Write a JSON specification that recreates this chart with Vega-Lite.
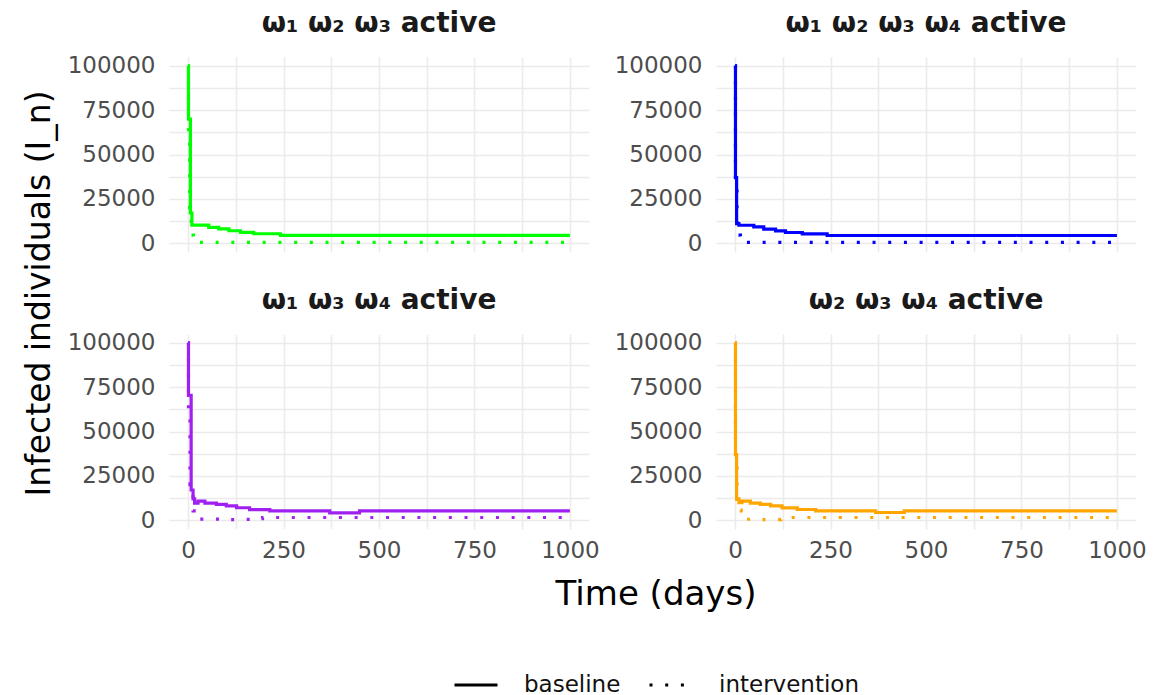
{
  "$schema": "https://vega.github.io/schema/vega-lite/v6.json",
  "background": "white",
  "padding": {"left": 24, "top": 9, "right": 18, "bottom": 4},
  "title": {
    "text": "Infected individuals (I_n)",
    "orient": "left",
    "anchor": "middle",
    "font": "DejaVu Sans",
    "fontSize": 33,
    "fontWeight": "normal",
    "color": "black",
    "offset": 10,
    "dx": 60
  },
  "data": {
    "values": [
      {"panel": "A", "scenario": "baseline", "t": 0, "v": 100000},
      {"panel": "A", "scenario": "baseline", "t": 1, "v": 70000},
      {"panel": "A", "scenario": "baseline", "t": 6, "v": 17000},
      {"panel": "A", "scenario": "baseline", "t": 10, "v": 10200},
      {"panel": "A", "scenario": "baseline", "t": 54, "v": 8900},
      {"panel": "A", "scenario": "baseline", "t": 80, "v": 8000},
      {"panel": "A", "scenario": "baseline", "t": 107, "v": 7000},
      {"panel": "A", "scenario": "baseline", "t": 137, "v": 6100},
      {"panel": "A", "scenario": "baseline", "t": 172, "v": 5300},
      {"panel": "A", "scenario": "baseline", "t": 242, "v": 4400},
      {"panel": "A", "scenario": "baseline", "t": 1000, "v": 4400},
      {"panel": "A", "scenario": "intervention", "t": 0, "v": 100000},
      {"panel": "A", "scenario": "intervention", "t": 1, "v": 64000},
      {"panel": "A", "scenario": "intervention", "t": 4, "v": 20000},
      {"panel": "A", "scenario": "intervention", "t": 8, "v": 4500},
      {"panel": "A", "scenario": "intervention", "t": 14, "v": 400},
      {"panel": "A", "scenario": "intervention", "t": 1000, "v": 400},

      {"panel": "B", "scenario": "baseline", "t": 0, "v": 100000},
      {"panel": "B", "scenario": "baseline", "t": 1, "v": 37000},
      {"panel": "B", "scenario": "baseline", "t": 4, "v": 11000},
      {"panel": "B", "scenario": "baseline", "t": 10, "v": 10100},
      {"panel": "B", "scenario": "baseline", "t": 49, "v": 9200},
      {"panel": "B", "scenario": "baseline", "t": 75, "v": 7900},
      {"panel": "B", "scenario": "baseline", "t": 106, "v": 6900},
      {"panel": "B", "scenario": "baseline", "t": 132, "v": 6000},
      {"panel": "B", "scenario": "baseline", "t": 176, "v": 5200},
      {"panel": "B", "scenario": "baseline", "t": 241, "v": 4300},
      {"panel": "B", "scenario": "baseline", "t": 1000, "v": 4300},
      {"panel": "B", "scenario": "intervention", "t": 0, "v": 100000},
      {"panel": "B", "scenario": "intervention", "t": 1, "v": 34000},
      {"panel": "B", "scenario": "intervention", "t": 5, "v": 4500},
      {"panel": "B", "scenario": "intervention", "t": 14, "v": 400},
      {"panel": "B", "scenario": "intervention", "t": 1000, "v": 400},

      {"panel": "C", "scenario": "baseline", "t": 0, "v": 100000},
      {"panel": "C", "scenario": "baseline", "t": 1, "v": 70400},
      {"panel": "C", "scenario": "baseline", "t": 8, "v": 17000},
      {"panel": "C", "scenario": "baseline", "t": 13, "v": 12000},
      {"panel": "C", "scenario": "baseline", "t": 17, "v": 9600},
      {"panel": "C", "scenario": "baseline", "t": 26, "v": 10700},
      {"panel": "C", "scenario": "baseline", "t": 44, "v": 9600},
      {"panel": "C", "scenario": "baseline", "t": 74, "v": 8900},
      {"panel": "C", "scenario": "baseline", "t": 100, "v": 8000},
      {"panel": "C", "scenario": "baseline", "t": 127, "v": 7000},
      {"panel": "C", "scenario": "baseline", "t": 161, "v": 5900},
      {"panel": "C", "scenario": "baseline", "t": 214, "v": 5200},
      {"panel": "C", "scenario": "baseline", "t": 371, "v": 4100},
      {"panel": "C", "scenario": "baseline", "t": 449, "v": 5200},
      {"panel": "C", "scenario": "baseline", "t": 1000, "v": 5200},
      {"panel": "C", "scenario": "intervention", "t": 0, "v": 100000},
      {"panel": "C", "scenario": "intervention", "t": 1, "v": 63000},
      {"panel": "C", "scenario": "intervention", "t": 5, "v": 20000},
      {"panel": "C", "scenario": "intervention", "t": 13, "v": 5200},
      {"panel": "C", "scenario": "intervention", "t": 22, "v": 600},
      {"panel": "C", "scenario": "intervention", "t": 100, "v": 300},
      {"panel": "C", "scenario": "intervention", "t": 150, "v": 400},
      {"panel": "C", "scenario": "intervention", "t": 170, "v": 900},
      {"panel": "C", "scenario": "intervention", "t": 195, "v": 1500},
      {"panel": "C", "scenario": "intervention", "t": 1000, "v": 1500},

      {"panel": "D", "scenario": "baseline", "t": 0, "v": 100000},
      {"panel": "D", "scenario": "baseline", "t": 1, "v": 37000},
      {"panel": "D", "scenario": "baseline", "t": 4, "v": 12000},
      {"panel": "D", "scenario": "baseline", "t": 10, "v": 9800},
      {"panel": "D", "scenario": "baseline", "t": 18, "v": 10700},
      {"panel": "D", "scenario": "baseline", "t": 40, "v": 9600},
      {"panel": "D", "scenario": "baseline", "t": 66, "v": 8900},
      {"panel": "D", "scenario": "baseline", "t": 93, "v": 8000},
      {"panel": "D", "scenario": "baseline", "t": 123, "v": 6900},
      {"panel": "D", "scenario": "baseline", "t": 163, "v": 6000},
      {"panel": "D", "scenario": "baseline", "t": 211, "v": 5200},
      {"panel": "D", "scenario": "baseline", "t": 368, "v": 4300},
      {"panel": "D", "scenario": "baseline", "t": 443, "v": 5200},
      {"panel": "D", "scenario": "baseline", "t": 1000, "v": 5200},
      {"panel": "D", "scenario": "intervention", "t": 0, "v": 100000},
      {"panel": "D", "scenario": "intervention", "t": 1, "v": 34000},
      {"panel": "D", "scenario": "intervention", "t": 5, "v": 5600},
      {"panel": "D", "scenario": "intervention", "t": 16, "v": 500},
      {"panel": "D", "scenario": "intervention", "t": 60, "v": 300},
      {"panel": "D", "scenario": "intervention", "t": 120, "v": 400},
      {"panel": "D", "scenario": "intervention", "t": 145, "v": 1500},
      {"panel": "D", "scenario": "intervention", "t": 1000, "v": 1500}
    ]
  },
  "facet": {
    "field": "panel",
    "type": "nominal",
    "sort": ["A", "B", "C", "D"],
    "header": {
      "title": null,
      "labelOrient": "top",
      "labelExpr": "datum.value === 'A' ? 'ω₁ ω₂ ω₃ active' : datum.value === 'B' ? 'ω₁ ω₂ ω₃ ω₄ active' : datum.value === 'C' ? 'ω₁ ω₃ ω₄ active' : 'ω₂ ω₃ ω₄ active'",
      "labelFont": "DejaVu Sans",
      "labelFontSize": 28,
      "labelFontWeight": "bold",
      "labelColor": "#1a1a1a",
      "labelPadding": 17
    }
  },
  "columns": 2,
  "spacing": {"column": 25, "row": 30},
  "resolve": {"axis": {"y": "independent"}},
  "spec": {
    "width": 420,
    "height": 195,
    "mark": {"type": "line", "interpolate": "step-after", "strokeWidth": 3.2, "clip": true},
    "encoding": {
      "x": {
        "field": "t",
        "type": "quantitative",
        "title": null,
        "scale": {"domain": [-50, 1050], "nice": false, "zero": false},
        "axis": {
          "values": [0, 125, 250, 375, 500, 625, 750, 875, 1000],
          "labelExpr": "datum.value % 250 === 0 ? datum.label : ''",
          "format": "d"
        }
      },
      "y": {
        "field": "v",
        "type": "quantitative",
        "title": null,
        "scale": {"domain": [-5000, 105000], "nice": false, "zero": false},
        "axis": {
          "values": [0, 12500, 25000, 37500, 50000, 62500, 75000, 87500, 100000],
          "labelExpr": "datum.value % 25000 === 0 ? datum.label : ''",
          "format": "d"
        }
      },
      "color": {
        "field": "panel",
        "type": "nominal",
        "scale": {"domain": ["A", "B", "C", "D"], "range": ["#00FF00", "#0000FF", "#A020F0", "#FFA500"]},
        "legend": null
      },
      "strokeDash": {
        "field": "scenario",
        "type": "nominal",
        "scale": {"domain": ["baseline", "intervention"], "range": [[1, 0], [3, 12.7]]},
        "legend": {
          "title": "Time (days)",
          "titleFont": "DejaVu Sans",
          "titleFontSize": 34,
          "titleFontWeight": "normal",
          "titleColor": "black",
          "titleAnchor": "middle",
          "titleAlign": "center",
          "titleBaseline": "top",
          "titleLimit": 500,
          "titlePadding": 50,
          "orient": "none",
          "legendX": 284,
          "legendY": 521,
          "direction": "horizontal",
          "symbolType": "stroke",
          "symbolSize": 1849,
          "symbolStrokeWidth": 3,
          "symbolStrokeColor": "black",
          "labelFont": "DejaVu Sans",
          "labelFontSize": 23,
          "labelColor": "#111111",
          "labelOffset": 25,
          "columnPadding": 22
        }
      }
    }
  },
  "config": {
    "view": {"stroke": null},
    "axis": {
      "domain": false,
      "ticks": false,
      "labelFont": "DejaVu Sans",
      "labelFontSize": 23,
      "labelColor": "#4D4D4D",
      "gridColor": "#EBEBEB",
      "gridWidth": {"condition": {"test": "datum.label !== ''", "value": 1.6}, "value": 1.0}
    },
    "axisY": {"labelPadding": 14},
    "axisX": {"labelPadding": 6}
  }
}
